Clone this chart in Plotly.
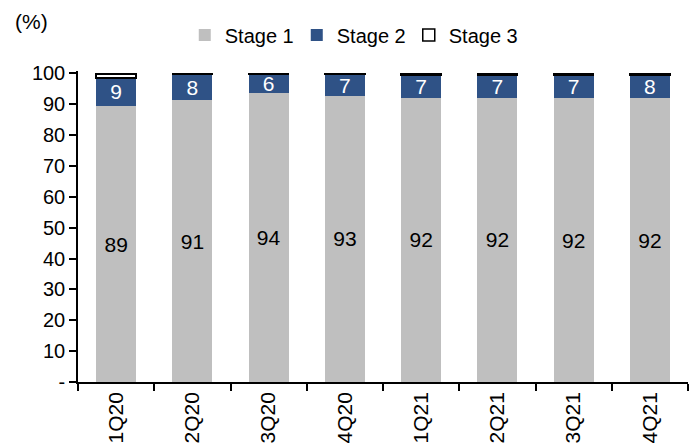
import plotly.graph_objects as go

quarters = ["1Q20", "2Q20", "3Q20", "4Q20", "1Q21", "2Q21", "3Q21", "4Q21"]
stage1 = [89.4, 91.4, 93.8, 92.7, 92.1, 92.1, 92.0, 91.9]
stage2 = [9.2, 8.2, 5.8, 7.1, 7.4, 7.4, 7.4, 7.6]
stage3 = [1.3, 0.4, 0.4, 0.2, 0.4, 0.4, 0.4, 0.4]

yticks = [0, 10, 20, 30, 40, 50, 60, 70, 80, 90, 100]
yticklabels = ["-", "10", "20", "30", "40", "50", "60", "70", "80", "90", "100"]

FONT = "Liberation Sans, Arial, sans-serif"

fig = go.Figure()
fig.add_trace(go.Bar(
    x=quarters, y=stage1, name="Stage 1",
    marker=dict(color="#BFBFBF", line=dict(width=0)),
    text=stage1, texttemplate="%{y:.0f}", textposition="inside",
    insidetextanchor="middle", textangle=0, constraintext="none",
    textfont=dict(color="black", size=21, family=FONT),
))
fig.add_trace(go.Bar(
    x=quarters, y=stage2, name="Stage 2",
    marker=dict(color="#2F5286", line=dict(width=0)),
    text=stage2, texttemplate="%{y:.0f}", textposition="inside",
    insidetextanchor="middle", textangle=0, constraintext="none",
    textfont=dict(color="white", size=21, family=FONT),
))
fig.add_trace(go.Bar(
    x=quarters, y=stage3, name="Stage 3",
    marker=dict(color="white", line=dict(color="black", width=1.5)),
    textposition="none",
))

fig.update_layout(
    barmode="stack",
    bargap=0.475,
    width=689, height=446,
    margin=dict(l=78, r=1, t=71, b=64, autoexpand=False),
    paper_bgcolor="white", plot_bgcolor="white",
    font=dict(family=FONT, size=20, color="black"),
    showlegend=True,
    legend=dict(orientation="h", xref="container", yref="container",
                x=0.512, xanchor="center", y=1 - 35 / 446, yanchor="middle",
                font=dict(size=20), itemwidth=30, traceorder="normal",
                bgcolor="rgba(0,0,0,0)", entrywidth=67, entrywidthmode="pixels"),
    annotations=[dict(text="(%)", xref="paper", yref="paper", x=-0.1066, y=1.1576,
                      xanchor="left", yanchor="middle", showarrow=False,
                      font=dict(size=21, family=FONT))],
)
fig.update_yaxes(range=[0, 100.8], tickvals=yticks, ticktext=yticklabels,
                 showgrid=False, zeroline=False, showline=True, linecolor="black",
                 linewidth=1.5, ticks="outside", ticklen=7, tickwidth=1.5,
                 tickcolor="black", tickfont=dict(size=20), automargin=False)
fig.update_xaxes(type="category", showgrid=False, showline=True, linecolor="black",
                 linewidth=1.5, ticks="outside", ticklen=7, tickwidth=1.5,
                 tickcolor="black", tickson="boundaries", tickangle=-90,
                 tickfont=dict(size=21), automargin=False)

fig.write_html("out.html")
